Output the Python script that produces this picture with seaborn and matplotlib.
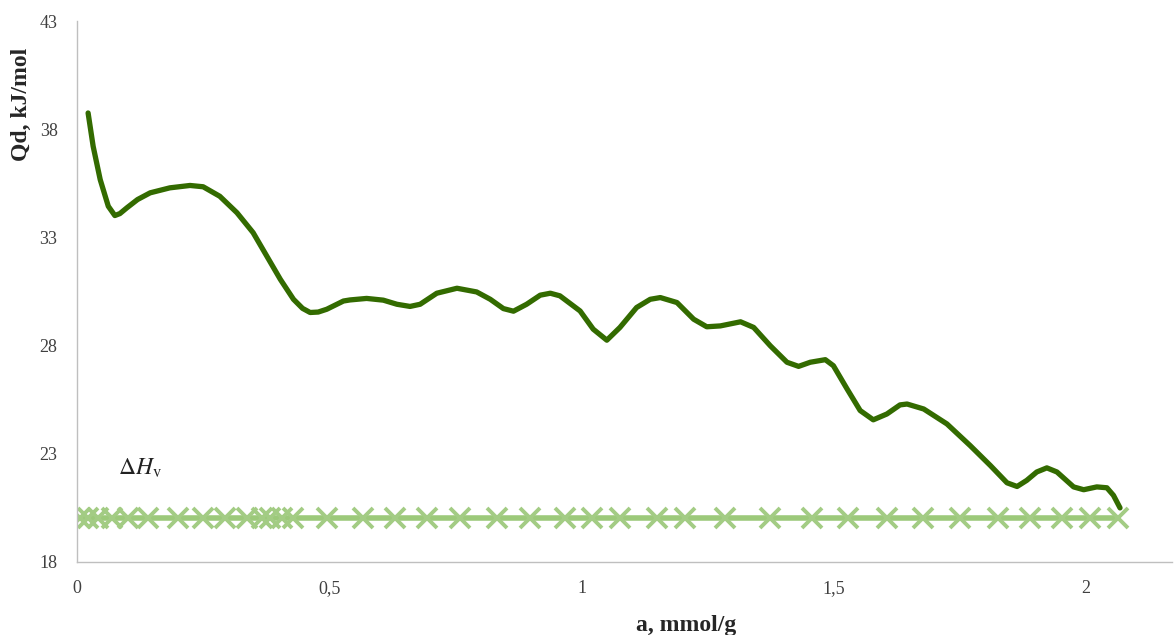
import matplotlib
matplotlib.use("Agg")
import matplotlib.pyplot as plt
import numpy as np
import pandas as pd
import seaborn as sns
from matplotlib.ticker import FixedLocator, FuncFormatter


# Qd curve
A_CURVE = [0.022, 0.032, 0.046, 0.062, 0.075, 0.085, 0.099, 0.120, 0.145, 0.184,
           0.224, 0.250, 0.283, 0.317, 0.349, 0.376, 0.403, 0.429, 0.447, 0.462,
           0.478, 0.495, 0.528, 0.541, 0.574, 0.607, 0.634, 0.660, 0.680, 0.713,
           0.753, 0.792, 0.819, 0.845, 0.865, 0.891, 0.918, 0.938, 0.957, 0.997,
           1.023, 1.050, 1.076, 1.109, 1.136, 1.156, 1.189, 1.222, 1.248, 1.275,
           1.315, 1.341, 1.374, 1.407, 1.430, 1.453, 1.483, 1.499, 1.526, 1.552,
           1.578, 1.605, 1.631, 1.645, 1.678, 1.724, 1.770, 1.810, 1.843, 1.863,
           1.882, 1.902, 1.922, 1.942, 1.975, 1.995, 2.021, 2.041, 2.054, 2.067]
QD_CURVE = [38.75, 37.21, 35.67, 34.44, 34.01, 34.10, 34.37, 34.75, 35.06, 35.29,
            35.40, 35.34, 34.90, 34.14, 33.22, 32.14, 31.06, 30.14, 29.72, 29.53,
            29.55, 29.68, 30.06, 30.11, 30.18, 30.10, 29.91, 29.81, 29.91, 30.42,
            30.65, 30.48, 30.14, 29.71, 29.59, 29.91, 30.33, 30.42, 30.30, 29.60,
            28.76, 28.25, 28.84, 29.76, 30.14, 30.22, 29.99, 29.22, 28.87, 28.91,
            29.10, 28.84, 27.99, 27.23, 27.04, 27.23, 27.35, 27.07, 26.00, 25.00,
            24.57, 24.84, 25.26, 25.30, 25.07, 24.38, 23.38, 22.46, 21.66, 21.49,
            21.77, 22.16, 22.35, 22.16, 21.47, 21.34, 21.47, 21.43, 21.08, 20.50]

# heat of vaporisation line, with its measurement points
A_POINTS = [0.006, 0.022, 0.042, 0.069, 0.101, 0.141, 0.200, 0.250, 0.293, 0.337,
            0.367, 0.383, 0.406, 0.428, 0.496, 0.567, 0.630, 0.694, 0.759, 0.833,
            0.898, 0.967, 1.021, 1.076, 1.150, 1.205, 1.284, 1.374, 1.457, 1.528,
            1.606, 1.677, 1.750, 1.826, 1.889, 1.952, 2.008, 2.063]
DH_V = 20.05

Y_TICKS = [18, 23, 28, 33, 38, 43]
X_TICKS = [0, 0.5, 1, 1.5, 2]

sns.set_style("white")
plt.rcParams["font.family"] = ["Liberation Serif", "DejaVu Serif"]
plt.rcParams["mathtext.fontset"] = "stix"

curve = pd.DataFrame({"a": A_CURVE, "qd": QD_CURVE})
dh = pd.DataFrame({"a": A_POINTS, "qd": [DH_V] * len(A_POINTS)})

fig = plt.figure(figsize=(11.74, 6.35), dpi=100)
ax = fig.add_axes([77 / 1174, 73 / 635, 1095 / 1174, 541 / 635])

sns.lineplot(data=dh, x="a", y="qd", ax=ax, color="#9cc97a", linewidth=4,
             marker="x", markersize=15, markeredgewidth=2.8,
             markeredgecolor="#a3cc84", zorder=2)
sns.lineplot(data=curve, x="a", y="qd", ax=ax, color="#336b00", linewidth=3.8,
             solid_joinstyle="round", solid_capstyle="round", zorder=3)

ax.set_xlim(0, 2.17)
ax.set_ylim(18, 43)
ax.yaxis.set_major_locator(FixedLocator(Y_TICKS))
ax.yaxis.set_minor_locator(FixedLocator([20.5, 25.5, 30.5, 35.5, 40.5]))
ax.xaxis.set_major_locator(FixedLocator(X_TICKS))
ax.xaxis.set_minor_locator(FixedLocator([0.25, 0.75, 1.25, 1.75]))
ax.xaxis.set_major_formatter(FuncFormatter(lambda v, p: f"{v:g}".replace(".", ",")))

for side in ["top", "right"]:
    ax.spines[side].set_visible(False)
for side in ["left", "bottom"]:
    ax.spines[side].set_color("#bfbfbf")
    ax.spines[side].set_linewidth(1.0)

ax.tick_params(axis="both", which="both", direction="out", color="#bfbfbf",
               length=5, width=1, labelsize=13, labelcolor="#404040")
ax.tick_params(axis="x", pad=8)
ax.tick_params(axis="y", pad=9)

ax.set_xlabel("")
ax.set_ylabel("")
fig.text(686 / 1174, 1 - 625 / 635, "a, mmol/g", ha="center", va="center",
         fontsize=17, fontweight="bold")
fig.text(21 / 1174, 1 - 104 / 635, "Qd, kJ/mol", ha="center", va="center",
         rotation=90, fontsize=17, fontweight="bold")

ax.text(0.081, 22.35, r"$\Delta H_{\mathrm{v}}$", fontsize=17, ha="left",
        va="center", color="#222222")

fig.savefig("out.png", dpi=100)
